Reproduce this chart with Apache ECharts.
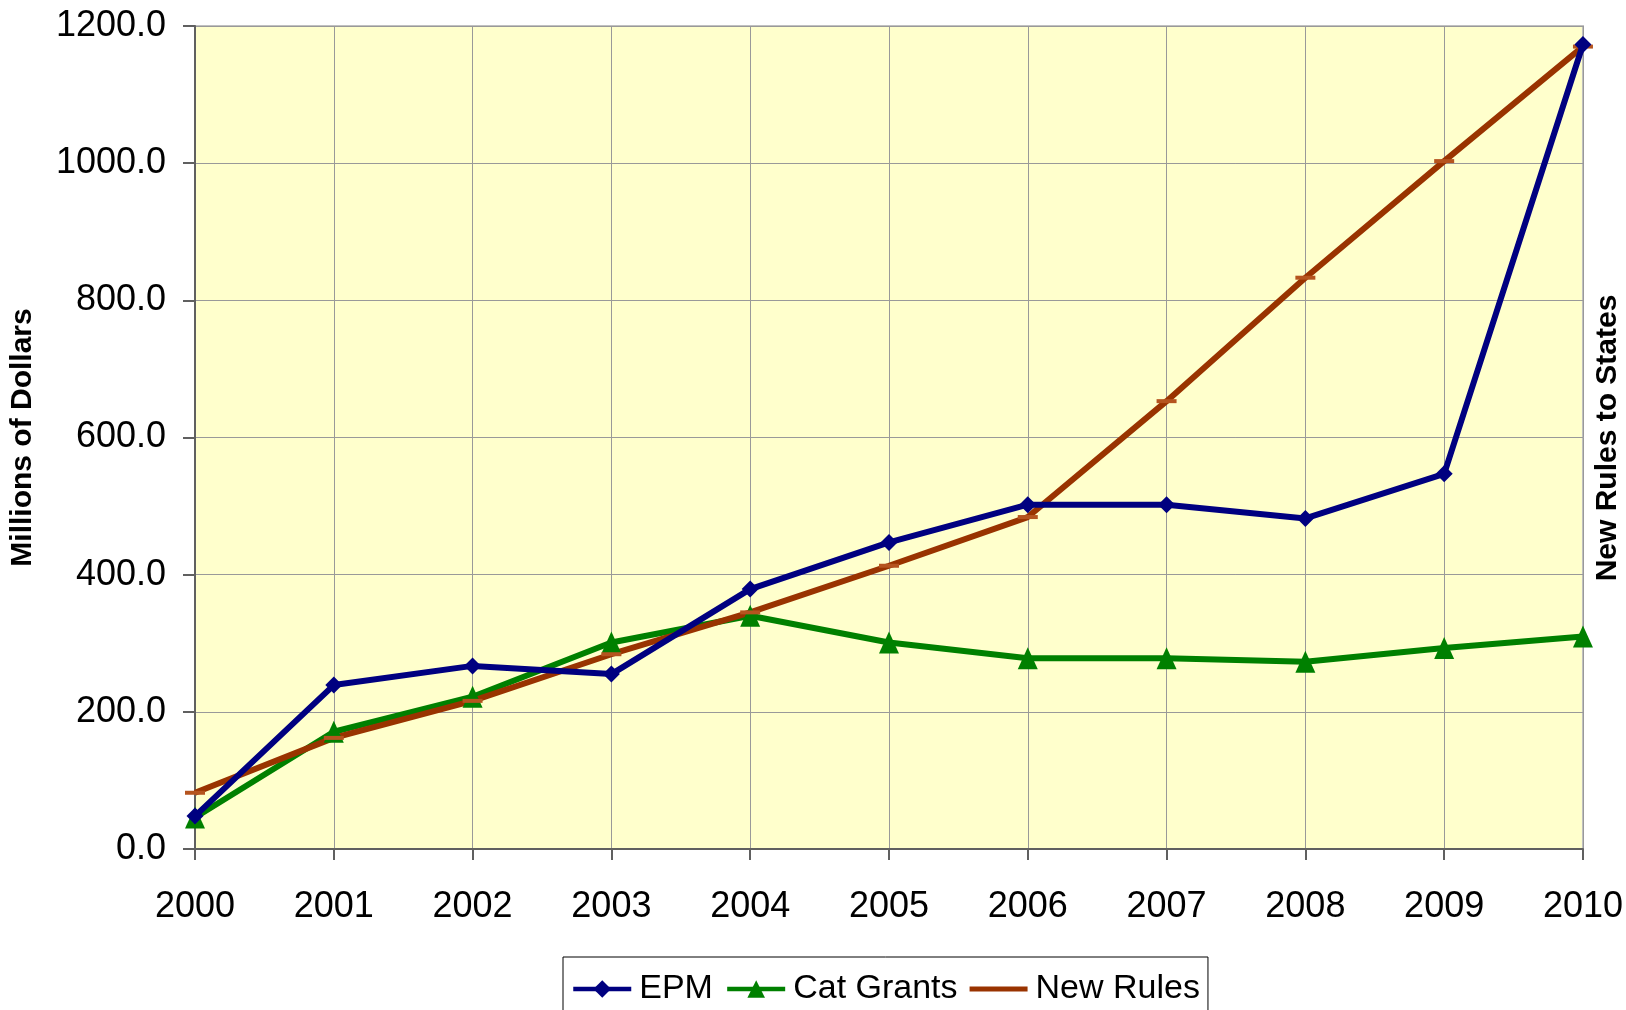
<!DOCTYPE html>
<html>
<head>
<meta charset="utf-8">
<script src="https://cdn.jsdelivr.net/npm/echarts@6/dist/echarts.min.js"></script>
<style>html,body{margin:0;padding:0;background:#fff}#c{width:1626px;height:1010px}</style>
</head>
<body>
<div id="c"></div>
<script>
const years = ['2000','2001','2002','2003','2004','2005','2006','2007','2008','2009','2010'];
const epm = [48, 239, 267, 255, 379, 447, 502, 502, 482, 547, 1173];
const catGrants = [46, 171, 222, 301, 340, 301, 278, 278, 273, 293, 310];
const newRules = [82, 162, 216, 284, 345, 413, 484, 653, 833, 1003, 1170];
const yTicks = {min: 0, max: 1200, interval: 200};

const chart = echarts.init(document.getElementById('c'));
const font = 'Liberation Sans, Arial, sans-serif';
chart.setOption({
  animation: false,
  grid: {left: 195, right: 42, top: 26, bottom: 161, show: true,
         backgroundColor: '#ffffcc', borderColor: '#c0c0c0', borderWidth: 2},
  legend: {
    left: 563, top: 957, padding: [15, 8, 15, 8],
    borderColor: '#000', borderWidth: 1, backgroundColor: '#fff',
    itemWidth: 58, itemHeight: 22, itemGap: 12,
    lineStyle: {width: 4.5},
    textStyle: {fontFamily: font, fontSize: 34, color: '#000', padding: [0, 0, 0, 3]},
    data: [
      {name: 'EPM'},
      {name: 'Cat Grants'},
      {name: 'New Rules', icon: 'path://M0,0L58,0L58,5L0,5Z', itemStyle: {color: '#993300'}}
    ]
  },
  xAxis: {
    type: 'category', data: years, boundaryGap: false,
    axisLine: {lineStyle: {color: '#606060', width: 2}},
    axisTick: {show: true, length: 11, alignWithLabel: true, lineStyle: {color: '#606060', width: 2}},
    axisLabel: {fontFamily: font, fontSize: 36, color: '#000', margin: 40},
    splitLine: {show: true, lineStyle: {color: '#999', width: 1}}
  },
  yAxis: {
    type: 'value', min: yTicks.min, max: yTicks.max, interval: yTicks.interval,
    name: 'Millions of Dollars', nameLocation: 'middle', nameGap: 157,
    nameTextStyle: {fontFamily: font, fontSize: 30, fontWeight: 'bold', color: '#000'},
    axisLine: {show: true, lineStyle: {color: '#606060', width: 2}},
    axisTick: {show: true, length: 12, lineStyle: {color: '#606060', width: 2}},
    axisLabel: {fontFamily: font, fontSize: 36, color: '#000', margin: 29,
                formatter: v => v.toFixed(1)},
    splitLine: {show: true, lineStyle: {color: '#999', width: 1}}
  },
  graphic: [{
    type: 'text', x: 1608, y: 438, rotation: Math.PI / 2,
    style: {text: 'New Rules to States', fontFamily: font, fontSize: 30, fontWeight: 'bold',
            fill: '#000', align: 'center', verticalAlign: 'middle'}
  }],
  series: [
    {name: 'EPM', type: 'line', data: epm, symbol: 'diamond', symbolSize: 17, z: 4,
     lineStyle: {color: '#000080', width: 6}, itemStyle: {color: '#000080'}},
    {name: 'Cat Grants', type: 'line', data: catGrants, symbol: 'triangle', symbolSize: [20, 22], z: 3,
     lineStyle: {color: '#008000', width: 6}, itemStyle: {color: '#008000'}},
    {name: 'New Rules', type: 'line', data: newRules, symbol: 'rect', symbolSize: [20, 4], z: 3,
     lineStyle: {color: '#993300', width: 6}, itemStyle: {color: '#b5541f'}}
  ]
});
</script>
</body>
</html>
